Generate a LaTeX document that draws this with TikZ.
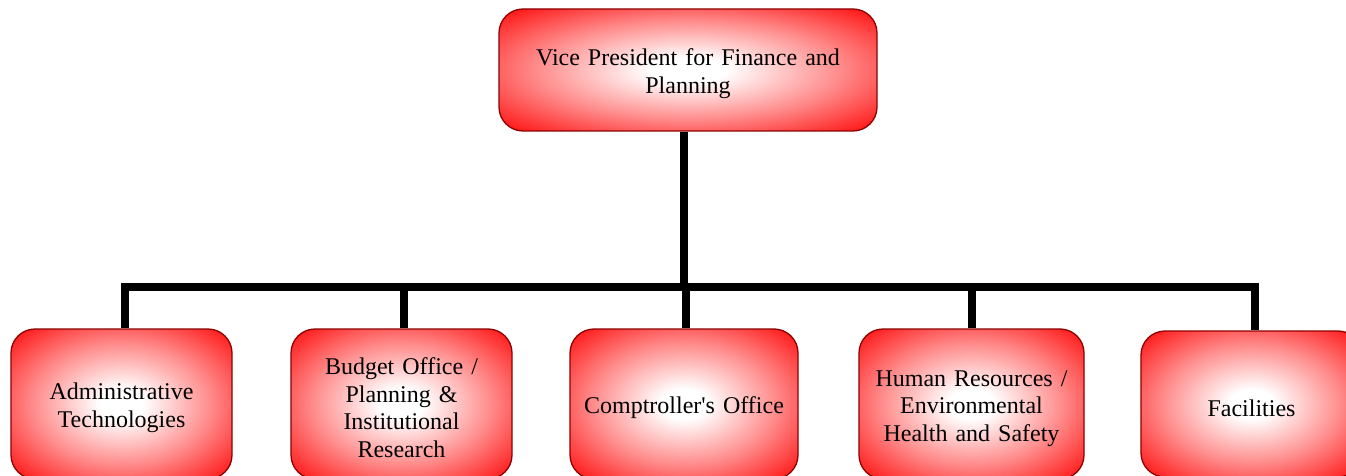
\documentclass[tikz,border=0pt]{standalone}
\usepackage{fontspec}
\setmainfont{Liberation Serif}[Ligatures=TeXOff]
\pgfdeclareradialshading{redglow}{\pgfpoint{0bp}{0bp}}{%
  color(0bp)=(white); color(5bp)=(white); color(20bp)=(red!45!white); color(33bp)=(red!88!white); color(42bp)=(red); color(60bp)=(red)}
\tikzset{
  box/.style={draw=red!55!black, line width=1.3pt, rounded corners=24pt,
    shade, shading=redglow, align=center, inner sep=4pt,
    font=\fontsize{24}{27.6}\selectfont,
    execute at begin node={\rule{0pt}{24.5pt}}},
  conn/.style={line width=8pt, draw=black, line join=miter}
}
\begin{document}
\begin{tikzpicture}[x=1pt,y=-1pt]
\useasboundingbox (0,0) rectangle (1346,476);
\clip (0,0) rectangle (1346,476);
\node[box, minimum width=378pt, minimum height=122pt, text width=360pt] (vp) at (688,70) {Vice President for Finance and\\Planning};
\node[box, minimum width=221pt, minimum height=150pt, text width=210pt] (b1) at (121.5,404) {Administrative\\Technologies};
\node[box, minimum width=221pt, minimum height=150pt, text width=210pt] (b2) at (401.5,404) {Budget Office /\\Planning \&\\Institutional\\Research};
\node[box, minimum width=228pt, minimum height=150pt, text width=220pt] (b3) at (684,404) {Comptroller's Office};
\node[box, minimum width=225pt, minimum height=150pt, text width=215pt] (b4) at (971.5,404) {Human Resources /\\Environmental\\Health and Safety};
\node[box, minimum width=221pt, minimum height=146pt, text width=210pt] (b5) at (1251.5,404) {Facilities};
\coordinate (top) at (684,286.5);
\coordinate (barL) at (125,286.5);
\coordinate (barR) at (1254.5,286.5);
\coordinate (j2) at (404,286.5);
\coordinate (j3) at (686,286.5);
\coordinate (j4) at (972,286.5);
\draw[conn] (vp.south -| top) -- (top);
\draw[conn] (barL |- b1.north) -- (barL) -- (barR) -- (barR |- b5.north);
\draw[conn] (j2) -- (j2 |- b2.north);
\draw[conn] (j3) -- (j3 |- b3.north);
\draw[conn] (j4) -- (j4 |- b4.north);
\end{tikzpicture}
\end{document}
